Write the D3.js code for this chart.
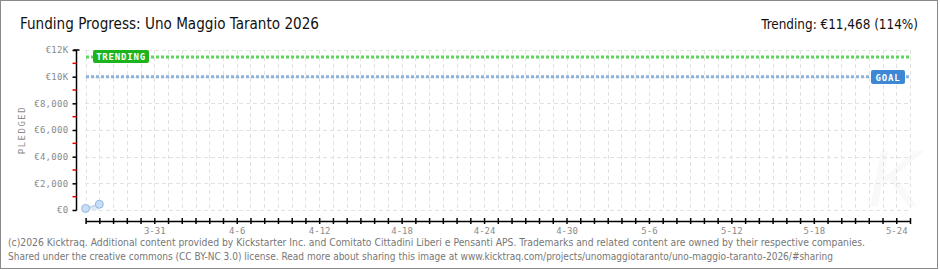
<!DOCTYPE html>
<html><head><meta charset="utf-8">
<script src="https://cdn.jsdelivr.net/npm/d3@7"></script>
<style>html,body{margin:0;padding:0;background:#fff;}svg{display:block;}</style>
</head><body>
<svg id="c" width="940" height="270"></svg>
<script>
const title = "Funding Progress: Uno Maggio Taranto 2026";
const trendingText = "Trending: €11,468 (114%)";
const footer = [
  "(c)2026 Kicktraq. Additional content provided by Kickstarter Inc. and Comitato Cittadini Liberi e Pensanti APS. Trademarks and related content are owned by their respective companies.",
  "Shared under the creative commons (CC BY-NC 3.0) license. Read more about sharing this image at www.kicktraq.com/projects/unomaggiotaranto/uno-maggio-taranto-2026/#sharing"
];
const dates = ["2026-03-26", "2026-03-27"];
const pledged = [120, 430];
const goal = 10000;
const trending = 11468;
const xDomain = ["2026-03-26", "2026-05-25"];
const xTickLabels = ["3-31","4-6","4-12","4-18","4-24","4-30","5-6","5-12","5-18","5-24"];
const yTicks = [0, 2000, 4000, 6000, 8000, 10000, 12000];
const yTickLabels = ["€0","€2,000","€4,000","€6,000","€8,000","€10K","€12K"];
const yMinor = [1000, 3000, 5000, 7000, 9000, 11000];

const parse = d3.utcParse("%Y-%m-%d");
const svg = d3.select("#c");
const x = d3.scaleUtc().domain(xDomain.map(parse)).range([85.6, 910]);
const y = d3.scaleLinear().domain([0, 12000]).range([210, 50]);
const sansFont = "'DejaVu Sans Condensed', 'Liberation Sans', sans-serif";

// frame
svg.append("rect").attr("x",0.5).attr("y",0.5).attr("width",937).attr("height",268)
  .attr("fill","#fff").attr("stroke","#8a8a8a");

// watermark
svg.append("text").attr("x",868).attr("y",206).attr("font-family","'Liberation Sans', sans-serif")
  .attr("font-style","italic").attr("font-size",80).attr("fill","#f9f9f9").text("K");

// title
svg.append("text").attr("x",20).attr("y",29).attr("font-family",sansFont)
  .attr("font-size",15).attr("fill","#111").attr("textLength",299).attr("lengthAdjust","spacingAndGlyphs")
  .text(title);
svg.append("text").attr("x",918).attr("y",29).attr("text-anchor","end").attr("font-family",sansFont)
  .attr("font-size",13.4).attr("fill","#111").text(trendingText);

// grid
const days = d3.utcDay.range(parse(xDomain[0]), d3.utcDay.offset(parse(xDomain[1]),1));
const g = svg.append("g");
g.selectAll("line.v").data(days).join("line")
  .attr("x1",d=>Math.round(x(d))+0.5).attr("x2",d=>Math.round(x(d))+0.5)
  .attr("y1",50).attr("y2",210).attr("stroke","#e2e2e2").attr("stroke-dasharray","4,3");
g.selectAll("line.h").data(yTicks).join("line")
  .attr("x1",85).attr("x2",911).attr("y1",d=>Math.round(y(d))+0.5).attr("y2",d=>Math.round(y(d))+0.5)
  .attr("stroke","#e2e2e2").attr("stroke-dasharray","4,3");

// y axis
const ya = svg.append("g").attr("transform","translate(76.5,0)")
  .call(d3.axisLeft(y).tickValues(yTicks).tickSize(4).tickFormat((d,i)=>yTickLabels[i]));
ya.select(".domain").attr("stroke","#000").attr("stroke-width",1.5).attr("d","M-3,50H3M0,50V210.5");
ya.selectAll(".tick line").attr("stroke","#000").attr("stroke-width",1.5);
ya.selectAll(".tick text").attr("x",-8).attr("font-family","DejaVu Sans Mono").attr("font-size",9)
  .attr("fill","#8a8a8a").attr("letter-spacing",0.3);
ya.selectAll("line.minor").data(yMinor).join("line").attr("class","minor")
  .attr("x1",-4).attr("x2",0).attr("y1",d=>y(d)).attr("y2",d=>y(d))
  .attr("stroke","#e00").attr("stroke-width",1.5);

svg.append("text").attr("transform","translate(25,130) rotate(-90)").attr("text-anchor","middle")
  .attr("font-family","DejaVu Sans Mono").attr("font-size",9).attr("fill","#8a8a8a")
  .attr("letter-spacing",1.5).text("PLEDGED");

// x axis
const labelMap = new Map(xTickLabels.map(s=>{const [m,d]=s.split("-"); return ["2026-"+m.padStart(2,"0")+"-"+d.padStart(2,"0"), s];}));
const fmt = d3.utcFormat("%Y-%m-%d");
const xa = svg.append("g").attr("transform","translate(0,221)")
  .call(d3.axisBottom(x).tickValues(days).tickSizeInner(3).tickSizeOuter(0)
    .tickFormat(d=>labelMap.get(fmt(d)) || ""));
xa.select(".domain").attr("stroke","#000").attr("stroke-width",1.5);
xa.selectAll(".tick line").attr("stroke","#000").attr("stroke-width",1.5).attr("y1",-3).attr("y2",3);
xa.selectAll(".tick text").attr("y",7).attr("font-family","DejaVu Sans Mono").attr("font-size",9)
  .attr("fill","#8a8a8a");

// goal & trending lines
svg.append("line").attr("x1",86).attr("x2",910).attr("y1",y(goal)).attr("y2",y(goal))
  .attr("stroke","#8fb2dc").attr("stroke-width",3).attr("stroke-dasharray","3,2");
svg.append("line").attr("x1",86).attr("x2",910).attr("y1",y(trending)).attr("y2",y(trending))
  .attr("stroke","#5fd55f").attr("stroke-width",3).attr("stroke-dasharray","3,2");

// labels
svg.append("rect").attr("x",93).attr("y",50).attr("width",56).attr("height",13).attr("rx",2)
  .attr("fill","#1db31d");
svg.append("text").attr("x",121).attr("y",60).attr("text-anchor","middle")
  .attr("font-family","DejaVu Sans Mono").attr("font-size",9).attr("font-weight","bold")
  .attr("fill","#fff").attr("letter-spacing",0.8).text("TRENDING");
svg.append("rect").attr("x",871).attr("y",70).attr("width",34).attr("height",14).attr("rx",2)
  .attr("fill","#3d87d4");
svg.append("text").attr("x",888).attr("y",80.5).attr("text-anchor","middle")
  .attr("font-family","DejaVu Sans Mono").attr("font-size",9).attr("font-weight","bold")
  .attr("fill","#fff").attr("letter-spacing",0.8).text("GOAL");

// data
const data = dates.map((d,i)=>({d:parse(d), v:pledged[i]}));
svg.append("path").datum(data)
  .attr("d", d3.area().x(d=>x(d.d)).y0(y(0)).y1(d=>y(d.v)))
  .attr("fill","#dfeaf8");
svg.append("path").datum(data)
  .attr("d", d3.line().x(d=>x(d.d)).y(d=>y(d.v)))
  .attr("fill","none").attr("stroke","#c5daf3").attr("stroke-width",2);
svg.selectAll("circle.p").data(data).join("circle")
  .attr("cx",d=>x(d.d)).attr("cy",d=>y(d.v)).attr("r",4)
  .attr("fill","#c9ddf6").attr("stroke","#96b8e2").attr("stroke-width",1);

// footer
footer.forEach((t,i)=>{
  svg.append("text").attr("x",8).attr("y",246+i*14).attr("font-family",sansFont)
    .attr("font-size",10).attr("fill","#777")
    .attr("textLength", i===0?857:825).attr("lengthAdjust","spacingAndGlyphs").text(t);
});
</script>
</body></html>
